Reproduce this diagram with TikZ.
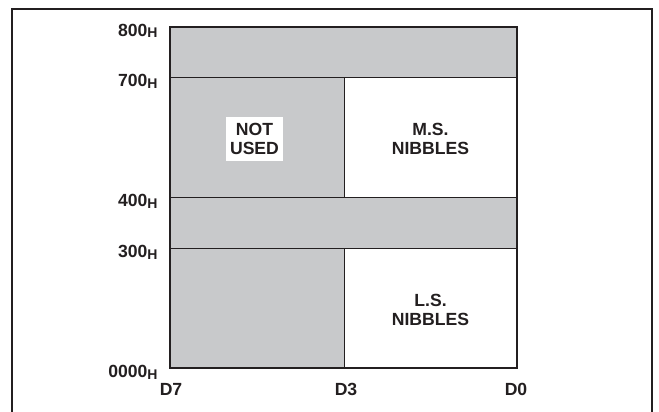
\documentclass[tikz,border=0pt]{standalone}
\usepackage{fontspec}
\setmainfont{Liberation Sans}
\usepackage{tikz}
\definecolor{memgray}{HTML}{C8C9CB}
\definecolor{ink}{HTML}{231F20}
\tikzset{lab/.style={font=\fontsize{8.8}{9.5}\selectfont\bfseries, align=center, inner sep=0pt, text=ink}}
\tikzset{thin/.style={draw=ink, line width=0.5pt}}
\newcommand{\hsub}{{\fontsize{7}{7}\selectfont\raisebox{-1pt}{H}}}

\begin{document}
\begin{tikzpicture}[x=0.5pt,y=-0.5pt]
    \useasboundingbox (0,0) rectangle (659,412);
    % frame
    \draw[ink, line width=1pt] (12,420)--(12,9)--(652,9)--(652,420);
    % memory map
    \fill[memgray] (170,27) rectangle (517,368);
    \fill[white] (344,77) rectangle (517,197);
    \fill[white] (344,248) rectangle (517,368);
    \foreach \y in {77,197,248} \draw[thin] (170,\y)--(517,\y);
    \draw[thin] (344,77)--(344,197);
    \draw[thin] (344,248)--(344,368);
    \draw[ink, line width=1.2pt] (170,27) rectangle (517,368);
    % addresses
    \foreach \y/\t in {27/800,77/700,197/400,248/300,368/0000}
      \node[lab, anchor=base east] (adr\t) at (158,\y+9) {\t\hsub};
    % data bits
    \node[lab, anchor=base] (d7) at (171,395) {D7};
    \node[lab, anchor=base] (d3) at (346,395) {D3};
    \node[lab, anchor=base] (d0) at (516,395) {D0};
    % blocks
    \node[lab, fill=white, minimum width=28.5pt, minimum height=22pt] (notused) at (254.5,139) {NOT\\USED};
    \node[lab] (msn) at (430.5,139) {M.S.\\NIBBLES};
    \node[lab] (lsn) at (430.5,310) {L.S.\\NIBBLES};
  \end{tikzpicture}
\end{document}
